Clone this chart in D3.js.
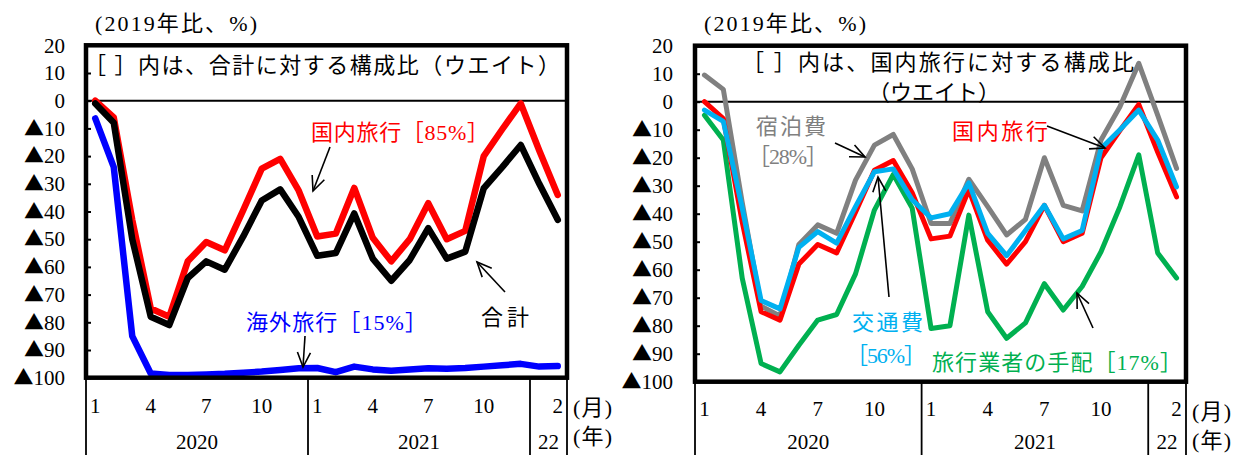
<!DOCTYPE html>
<html>
<head>
<meta charset="utf-8">
<script src="https://cdn.jsdelivr.net/npm/d3@7"></script>
<style>
  html, body { margin: 0; padding: 0; background: #fff; }
  svg { display: block; }
  text { font-family: "Liberation Serif", "Noto Sans CJK JP", serif; }
</style>
</head>
<body>
<svg id="chart" width="1236" height="455"></svg>
<script>
// Monthly periods, Jan 2020 – Feb 2022
const periods = ["2020-01","2020-02","2020-03","2020-04","2020-05","2020-06","2020-07","2020-08","2020-09","2020-10","2020-11","2020-12",
                 "2021-01","2021-02","2021-03","2021-04","2021-05","2021-06","2021-07","2021-08","2021-09","2021-10","2021-11","2021-12",
                 "2022-01","2022-02"];
const monthTicks = ["2020-01","2020-04","2020-07","2020-10","2021-01","2021-04","2021-07","2021-10","2022-02"];
const yearKeys   = ["2020","2021","2022"];
const yearLabels = ["2020","2021","22"];
const yTicks = [20,10,0,-10,-20,-30,-40,-50,-60,-70,-80,-90,-100];

// Change vs. 2019 (%)
const domesticTravel = [0,-6,-43,-75,-78,-58,-51,-54,-39.5,-24.5,-21,-32.5,-49,-48,-31.5,-49.5,-58,-50,-37,-50,-47,-20,-10.3,-1,-18,-34];
const totalTravel    = [-1,-8,-50,-78,-81,-64,-58,-61,-49,-36,-32,-42,-56,-55,-40.7,-57,-65,-57.5,-46,-57,-54.5,-31.6,-24,-16,-30,-43];
const overseasTravel = [-6.4,-24,-85,-98.5,-99,-99,-98.8,-98.6,-98.2,-97.8,-97.2,-96.6,-96.5,-98,-96,-97,-97.5,-97,-96.6,-96.8,-96.5,-96,-95.5,-95,-96,-95.8];
const accommodation  = [9.5,4.4,-36,-73,-76.5,-51,-44,-47,-28,-15.5,-11.7,-24,-43.5,-43.5,-27.7,-37.5,-47.6,-42,-20,-37,-39,-13.7,-1.8,13.7,-4.8,-23.8];
const transport      = [-3,-7,-38,-71,-74,-52,-46.4,-50.5,-37.5,-25,-24,-35,-41.5,-40,-29,-47,-55,-46,-37,-49,-46,-16.7,-10,-3,-13.7,-30.4];
const agencyFees     = [-4.8,-13.7,-63,-93.5,-96.5,-87,-78,-76,-61.5,-38.7,-26,-38,-81,-80,-40.5,-75,-84.5,-79,-65,-74.4,-66,-53.6,-37.5,-19,-54,-63];

const svg = d3.select("#chart");
const FS = 21;      // numeric label size
const JFS = 22;     // Japanese label size

function arrow(g, x1, y1, x2, y2) {
  const a = Math.atan2(y2 - y1, x2 - x1), L = 16, h = 0.42;
  g.append("line").attr("x1", x1).attr("y1", y1).attr("x2", x2).attr("y2", y2)
    .attr("stroke", "#000").attr("stroke-width", 1.6);
  g.append("path")
    .attr("d", `M${x2 - L * Math.cos(a - h)},${y2 - L * Math.sin(a - h)}L${x2},${y2}L${x2 - L * Math.cos(a + h)},${y2 - L * Math.sin(a + h)}`)
    .attr("fill", "none").attr("stroke", "#000").attr("stroke-width", 1.6);
}

// text placed by its left edge; an optional span width spreads the glyphs
function label(g, txt, x, y, color, size, span) {
  const t = g.append("text").attr("x", x).attr("y", y).attr("fill", color)
    .attr("font-size", size || JFS).attr("dominant-baseline", "central").text(txt);
  if (span) t.attr("textLength", span).attr("lengthAdjust", "spacing");
  return t;
}

function drawPanel(cfg) {
  const g = svg.append("g");
  const x = d3.scaleBand().domain(periods).range([cfg.x0, cfg.x1]);
  const xc = p => x(p) + x.bandwidth() / 2;
  const y = d3.scaleLinear().domain([-100, 20]).range([cfg.yBottom, cfg.yTop]);

  // zero line (bottom of the note band)
  g.append("line").attr("x1", cfg.x0).attr("x2", cfg.x1).attr("y1", y(0)).attr("y2", y(0))
    .attr("stroke", "#000").attr("stroke-width", 2);

  // series
  const line = d3.line().x((d, i) => xc(periods[i])).y(d => y(d));
  cfg.series.forEach(s => {
    g.append("path").datum(s.values).attr("d", line)
      .attr("fill", "none").attr("stroke", s.color).attr("stroke-width", cfg.lineWidth)
      .attr("stroke-linejoin", "round").attr("stroke-linecap", "round");
  });

  // frame
  g.append("rect").attr("x", cfg.x0).attr("y", y(20))
    .attr("width", cfg.x1 - cfg.x0).attr("height", y(-100) - y(20))
    .attr("fill", "none").attr("stroke", "#000").attr("stroke-width", 4.5);

  // y axis, negatives written with a leading ▲
  const ya = g.append("g").attr("transform", `translate(${cfg.x0},0)`)
    .call(d3.axisLeft(y).tickValues(yTicks).tickSize(-5).tickPadding(cfg.yPad));
  ya.select(".domain").remove();
  ya.selectAll(".tick line").attr("stroke", "#000").attr("stroke-width", 2);
  ya.selectAll("text").attr("font-size", FS).attr("fill", "#000")
    .attr("font-family", "'Liberation Serif',serif")
    .each(function (d) {
      const t = d3.select(this).text(null);
      if (d < 0) {
        t.append("tspan").attr("font-family", "'Noto Sans CJK JP'").attr("font-size", 20).text("▲");
        t.append("tspan").text(-d);
      } else {
        t.text(d);
      }
    });

  // x axis: month ticks
  const xa = g.append("g").attr("transform", `translate(0,${cfg.yBottom})`)
    .call(d3.axisBottom(x).tickValues(monthTicks).tickSize(0).tickPadding(cfg.xPad)
      .tickFormat(p => String(+p.slice(5))));
  xa.select(".domain").remove();
  xa.selectAll("text").attr("font-size", FS).attr("fill", "#000")
    .attr("font-family", "'Liberation Serif',serif");

  // year separators and labels
  const bottom = 455;
  const seps = [cfg.x0, cfg.x1];
  yearKeys.forEach((k, i) => {
    const inYear = periods.filter(p => p.startsWith(k));
    const start = x(inYear[0]);
    const end = x(inYear[inYear.length - 1]) + x.bandwidth();
    if (i > 0) seps.push(start);
    g.append("text").attr("x", (start + end) / 2).attr("y", cfg.yBottom + cfg.yearDy)
      .attr("text-anchor", "middle").attr("dominant-baseline", "central")
      .attr("font-size", FS).attr("fill", "#000").text(yearLabels[i]);
  });
  seps.forEach(sx => {
    g.append("line").attr("x1", sx).attr("x2", sx).attr("y1", cfg.yBottom).attr("y2", bottom)
      .attr("stroke", "#000").attr("stroke-width", 1.8);
  });

  // unit captions
  label(g, "(月)", cfg.x1 + 6, cfg.yBottom + 30, "#000", JFS, 39);
  label(g, "(年)", cfg.x1 + 6, cfg.yBottom + 59, "#000", JFS, 39);
  label(g, "(2019年比、%)", cfg.x0 + 9, 23, "#000", JFS, 162);

  return { g, x, xc, y };
}

// ---- Left panel: total, domestic and overseas travel ----
const L = drawPanel({
  x0: 86, x1: 567, yTop: 45.3, yBottom: 377.7, yPad: 21, xPad: 20, yearDy: 64, lineWidth: 6.5,
  series: [
    { values: domesticTravel, color: "#FF0000" },
    { values: totalTravel,    color: "#000000" },
    { values: overseasTravel, color: "#0000FF" }
  ]
});
label(L.g, "［ ］内は、合計に対する構成比（ウエイト）", 84, 65, "#000", JFS, 476);
label(L.g, "国内旅行［85%］", 311, 132, "#FF0000", JFS, 178);
arrow(L.g, 330, 147, 313, 191);
label(L.g, "合計", 481, 317, "#000", JFS, 48);
arrow(L.g, 505, 292, 477, 262);
label(L.g, "海外旅行［15%］", 246, 322, "#0000FF", JFS, 181);
arrow(L.g, 305, 336, 303, 367);

// ---- Right panel: domestic travel breakdown ----
const R = drawPanel({
  x0: 695, x1: 1186, yTop: 45.7, yBottom: 381.7, yPad: 22, xPad: 19, yearDy: 60, lineWidth: 5,
  series: [
    { values: agencyFees,     color: "#00B050" },
    { values: accommodation,  color: "#808080" },
    { values: domesticTravel, color: "#FF0000" },
    { values: transport,      color: "#00B0F0" }
  ]
});
label(R.g, "［ ］内は、国内旅行に対する構成比", 742, 62, "#000", JFS, 392);
label(R.g, "（ウエイト）", 868, 92, "#000", JFS, 132);
label(R.g, "宿泊費", 756, 126, "#808080", JFS, 70);
label(R.g, "［28%］", 748, 156, "#808080", JFS, 80);
arrow(R.g, 835, 143, 865, 157);
label(R.g, "国内旅行", 952, 131, "#FF0000", JFS, 96);
arrow(R.g, 1047, 126, 1105, 148);
label(R.g, "交通費", 852, 322, "#00B0F0", JFS, 71);
label(R.g, "［56%］", 846, 355, "#00B0F0", JFS, 80);
arrow(R.g, 889, 297, 878, 177);
label(R.g, "旅行業者の手配［17%］", 932, 362, "#00B050", JFS, 250);
arrow(R.g, 1093, 328, 1077, 293);
</script>
</body>
</html>
